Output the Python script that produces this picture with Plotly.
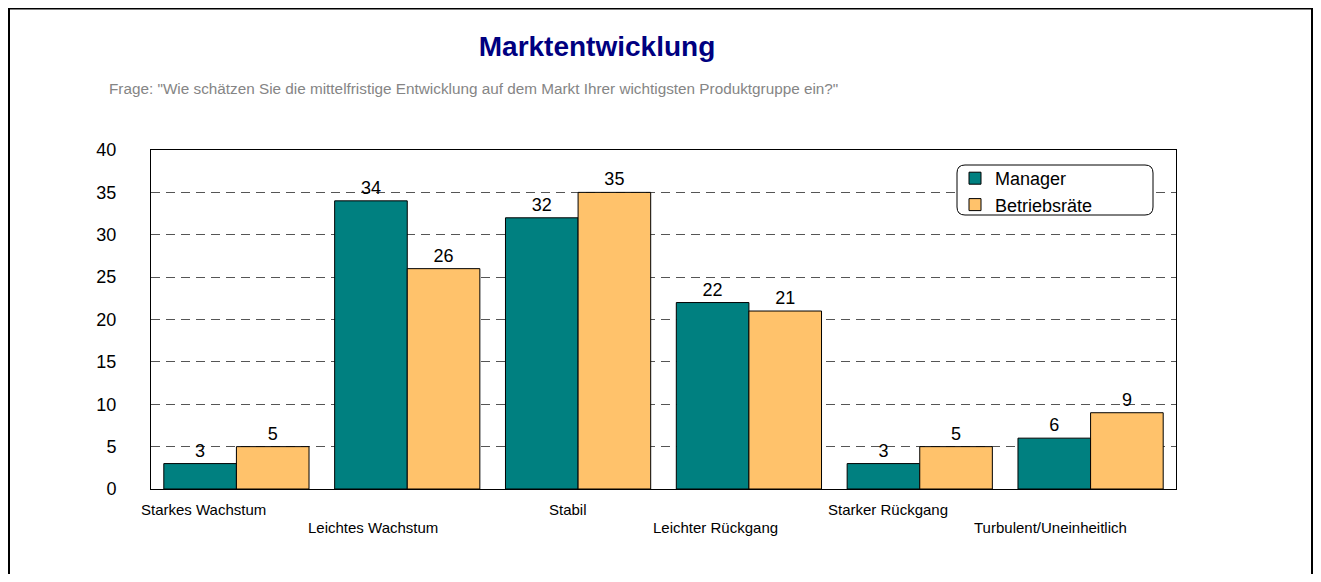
import plotly.graph_objects as go

categories = ["Starkes Wachstum", "Leichtes Wachstum", "Stabil",
              "Leichter Rückgang", "Starker Rückgang", "Turbulent/Uneinheitlich"]
manager = [3, 34, 32, 22, 3, 6]
betriebsraete = [5, 26, 35, 21, 5, 9]
y_ticks = [0, 5, 10, 15, 20, 25, 30, 35, 40]

# label placement style (pixels, relative to category centre)
label_xshift = [-33, -34, -10, -33, -32, -40]
label_yshift = [-10, -28, -10, -28, -10, -28]

FONT = "Arial, Liberation Sans, sans-serif"
OFF = 8  # page body margin
W, H = 1321 - 2 * OFF, 582 - 2 * OFF
# plot area in page pixels: x 151..1176, y 150..489
PL, PR, PT, PB = 151, 1176, 150, 489
L, T = PL - OFF, PT - OFF
R, B = W - (PR - OFF), H - (PB - OFF)
PW, PH = PR - PL, PB - PT


def px(xp):
    return (xp - PL) / PW


def py(yp):
    return (PB - yp) / PH


fig = go.Figure()
fig.add_trace(go.Bar(
    name="Manager", x=categories, y=manager,
    marker=dict(color="#008080", line=dict(color="black", width=1)),
    text=manager, textposition="outside",
    textfont=dict(size=18, color="black", family=FONT), cliponaxis=False,
))
fig.add_trace(go.Bar(
    name="Betriebsräte", x=categories, y=betriebsraete,
    marker=dict(color="#FFC26B", line=dict(color="black", width=1)),
    text=betriebsraete, textposition="outside",
    textfont=dict(size=18, color="black", family=FONT), cliponaxis=False,
))

annotations = []
for cat, dx, dy in zip(categories, label_xshift, label_yshift):
    annotations.append(dict(
        x=cat, xref="x", y=0, yref="paper", yanchor="top", xanchor="center",
        xshift=dx, yshift=dy, text=cat, showarrow=False,
        font=dict(size=15, color="black", family=FONT)))

annotations.append(dict(
    x=px(107), xref="paper", y=py(88), yref="paper", xanchor="left",
    yanchor="middle", showarrow=False,
    text='Frage: "Wie schätzen Sie die mittelfristige Entwicklung auf dem Markt Ihrer wichtigsten Produktgruppe ein?"',
    font=dict(size=15.3, color="#858585", family=FONT)))

fx0, fx1 = px(OFF + 1), px(OFF + W - 1)
fy_top, fy_bot = py(OFF + 0.5), py(OFF + H + 10)
shapes = [
    # outer frame (open at the bottom, continues past the page edge)
    dict(type="path", xref="paper", yref="paper",
         path=f"M {fx0},{fy_bot} L {fx0},{fy_top} L {fx1},{fy_top} L {fx1},{fy_bot}",
         line=dict(color="black", width=2), layer="above"),
    # rounded legend box
    dict(type="path", xref="paper", yref="paper",
         xsizemode="pixel", ysizemode="pixel",
         xanchor=px(1055), yanchor=py(190),
         path="M -90,-25 L 90,-25 Q 98,-25 98,-17 L 98,17 Q 98,25 90,25 "
              "L -90,25 Q -98,25 -98,17 L -98,-17 Q -98,-25 -90,-25 Z",
         line=dict(color="black", width=1), fillcolor="white", layer="above"),
]

fig.update_layout(
    width=W, height=H,
    margin=dict(l=L, r=R, t=T, b=B, autoexpand=False),
    paper_bgcolor="white", plot_bgcolor="white",
    font=dict(family=FONT, color="black"),
    title=dict(text="<b>Marktentwicklung</b>", x=px(597), xref="paper",
               xanchor="center", y=1 - (46 - OFF) / H, yanchor="middle",
               font=dict(size=28, color="#000080", family=FONT)),
    barmode="group", bargap=0.15, bargroupgap=0,
    showlegend=True,
    legend=dict(x=px(955), y=py(160), xanchor="left", yanchor="top",
                bgcolor="rgba(0,0,0,0)", borderwidth=0,
                font=dict(size=18, family=FONT, color="black"),
                tracegroupgap=0),
    xaxis=dict(showticklabels=False, showline=True, mirror=True,
               range=[-0.5, len(categories) - 0.5],
               linecolor="black", linewidth=1, showgrid=False, ticks=""),
    yaxis=dict(range=[0, 40], tickvals=y_ticks, showline=True, mirror=True,
               linecolor="black", linewidth=1, showgrid=True,
               gridcolor="#555555", griddash="9px,6px", gridwidth=1,
               zeroline=False, ticks="", ticklabelstandoff=30,
               tickfont=dict(size=18, family=FONT, color="black")),
    annotations=annotations, shapes=shapes,
)

fig.write_html("out.html")
